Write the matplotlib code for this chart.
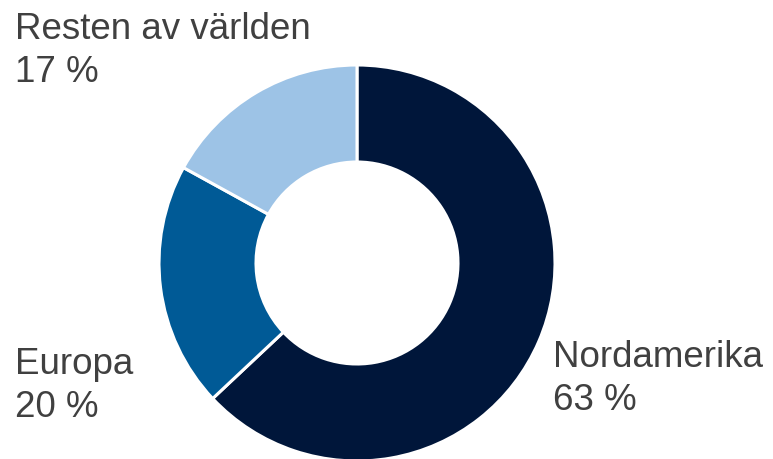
import matplotlib
matplotlib.use("Agg")
import matplotlib.pyplot as plt

# DATA
#===========================================================================
regions = ["Nordamerika", "Europa", "Resten av världen"]
shares = [63, 20, 17]
colors = ["#00163a", "#005a96", "#9dc3e6"]

W, H = 773, 460

# FIGURE (axes in pixel units, y measured from bottom)
#===========================================================================
fig = plt.figure(figsize=(W / 100, H / 100), dpi=100)
ax = fig.add_axes([0, 0, 1, 1])

ax.pie(shares, colors=colors, startangle=90, counterclock=False,
       center=(357, H - 264), radius=198,
       wedgeprops=dict(width=97, edgecolor="white", linewidth=2.2))

ax.set_xlim(0, W)
ax.set_ylim(0, H)
ax.set_aspect("equal")
ax.axis("off")

# LABELS
#===========================================================================
font = dict(family=["Liberation Sans", "DejaVu Sans"], fontsize=26.5,
            color="#404040", va="baseline", ha="left")
label_pos = {
    "Nordamerika": (553, 367),
    "Europa": (15, 374),
    "Resten av världen": (15, 39),
}
for name, val in zip(regions, shares):
    x, y = label_pos[name]
    ax.text(x, H - y, name, **font)
    ax.text(x, H - y - 43, f"{val} %", **font)

fig.savefig("out.png", dpi=100)
